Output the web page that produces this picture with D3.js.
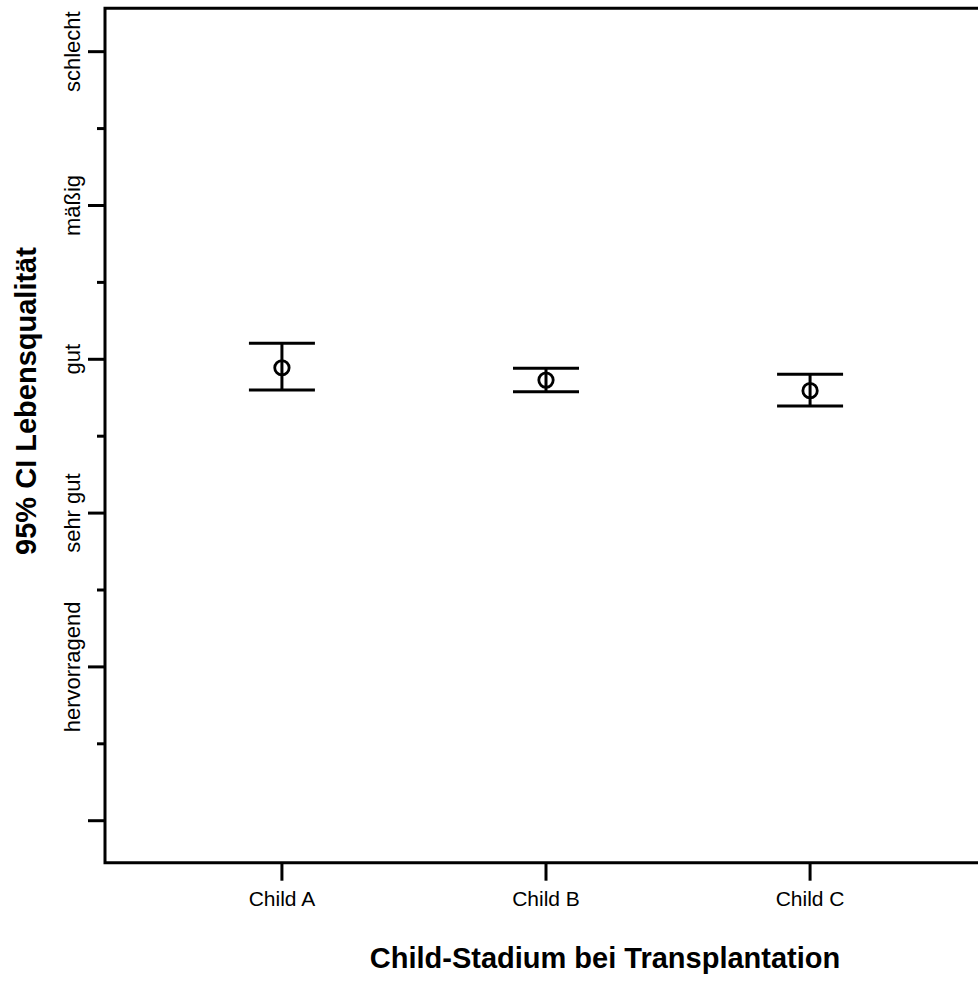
<!DOCTYPE html>
<html>
<head>
<meta charset="utf-8">
<script src="https://cdn.jsdelivr.net/npm/d3@7"></script>
<style>
  body { margin: 0; background: #fff; }
  text { font-family: "Liberation Sans", Arial, sans-serif; fill: #000; }
</style>
</head>
<body>
<script>
// data
var categories = ["Child A", "Child B", "Child C"];
var means = [2.945, 2.865, 2.796];
var lower = [2.800, 2.789, 2.696];
var upper = [3.104, 2.942, 2.902];

var yLabels = ["", "hervorragend", "sehr gut", "gut", "mäßig", "schlecht"];
var majorTicks = [0, 1, 2, 3, 4, 5];
var minorTicks = [0.5, 1.5, 2.5, 3.5, 4.5];

var width = 978, height = 985;
var plotLeft = 105, plotTop = 8.3, plotBottom = 862.7;

var svg = d3.select("body")
  .append("svg")
  .attr("width", width)
  .attr("height", height);

var x = d3.scalePoint()
  .domain(categories)
  .range([plotLeft, 987])
  .padding(0.67);

var y = d3.scaleLinear()
  .domain([-0.273, 5.282])
  .range([plotBottom, plotTop]);

// frame: left, top, bottom lines
svg.append("path")
  .attr("d", "M" + width + "," + plotTop + "H" + plotLeft + "V" + plotBottom + "H" + width)
  .attr("fill", "none")
  .attr("stroke", "#000")
  .attr("stroke-width", 3);

// y axis ticks
svg.selectAll(".ymajor")
  .data(majorTicks)
  .enter().append("line")
  .attr("x1", plotLeft - 17).attr("x2", plotLeft)
  .attr("y1", function(d) { return y(d); })
  .attr("y2", function(d) { return y(d); })
  .attr("stroke", "#000").attr("stroke-width", 3);

svg.selectAll(".yminor")
  .data(minorTicks)
  .enter().append("line")
  .attr("x1", plotLeft - 8).attr("x2", plotLeft)
  .attr("y1", function(d) { return y(d); })
  .attr("y2", function(d) { return y(d); })
  .attr("stroke", "#000").attr("stroke-width", 3);

svg.selectAll(".ylab")
  .data(majorTicks)
  .enter().append("text")
  .attr("transform", function(d) { return "translate(80," + y(d) + ") rotate(-90)"; })
  .attr("text-anchor", "middle")
  .style("font-size", "22px")
  .text(function(d, i) { return yLabels[i]; });

// x axis ticks
svg.selectAll(".xtick")
  .data(categories)
  .enter().append("line")
  .attr("x1", function(d) { return x(d); })
  .attr("x2", function(d) { return x(d); })
  .attr("y1", plotBottom).attr("y2", plotBottom + 18)
  .attr("stroke", "#000").attr("stroke-width", 3);

svg.selectAll(".xlab")
  .data(categories)
  .enter().append("text")
  .attr("x", function(d) { return x(d); })
  .attr("y", 906)
  .attr("text-anchor", "middle")
  .style("font-size", "21px")
  .text(function(d) { return d; });

// error bars
var bars = svg.selectAll(".bar")
  .data(categories)
  .enter().append("g");

bars.append("line")
  .attr("x1", function(d) { return x(d); })
  .attr("x2", function(d) { return x(d); })
  .attr("y1", function(d, i) { return y(upper[i]); })
  .attr("y2", function(d, i) { return y(lower[i]); })
  .attr("stroke", "#000").attr("stroke-width", 3);

bars.append("line")
  .attr("x1", function(d) { return x(d) - 33; })
  .attr("x2", function(d) { return x(d) + 33; })
  .attr("y1", function(d, i) { return y(upper[i]); })
  .attr("y2", function(d, i) { return y(upper[i]); })
  .attr("stroke", "#000").attr("stroke-width", 3);

bars.append("line")
  .attr("x1", function(d) { return x(d) - 33; })
  .attr("x2", function(d) { return x(d) + 33; })
  .attr("y1", function(d, i) { return y(lower[i]); })
  .attr("y2", function(d, i) { return y(lower[i]); })
  .attr("stroke", "#000").attr("stroke-width", 3);

bars.append("circle")
  .attr("cx", function(d) { return x(d); })
  .attr("cy", function(d, i) { return y(means[i]); })
  .attr("r", 7.2)
  .attr("fill", "none")
  .attr("stroke", "#000")
  .attr("stroke-width", 2.8);

// axis titles
svg.append("text")
  .attr("transform", "translate(36," + 401 + ") rotate(-90)")
  .attr("text-anchor", "middle")
  .style("font-size", "29px")
  .style("font-weight", "bold")
  .text("95% CI Lebensqualität");

svg.append("text")
  .attr("x", 605)
  .attr("y", 968)
  .attr("text-anchor", "middle")
  .style("font-size", "29px")
  .style("font-weight", "bold")
  .text("Child-Stadium bei Transplantation");
</script>
</body>
</html>
